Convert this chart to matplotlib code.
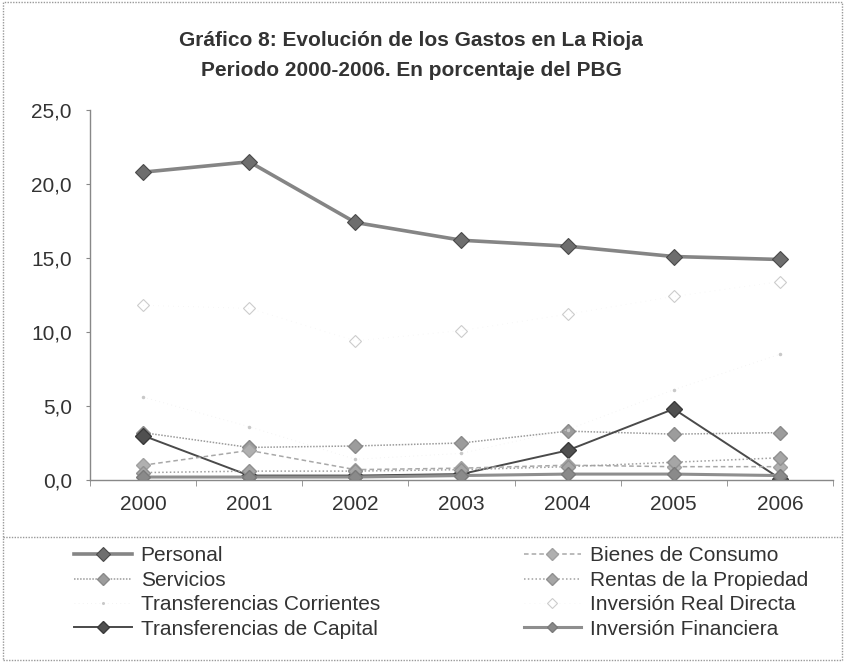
import matplotlib
matplotlib.use('Agg')
import matplotlib.pyplot as plt
from matplotlib.patches import Rectangle
from matplotlib.lines import Line2D

plt.rcParams['font.family'] = ['Liberation Sans', 'DejaVu Sans']

## data (% of PBG)
years = ['2000', '2001', '2002', '2003', '2004', '2005', '2006']
personal = [20.8, 21.5, 17.4, 16.2, 15.8, 15.1, 14.9]
bienes_consumo = [1.0, 2.0, 0.7, 0.8, 1.0, 0.9, 0.9]
servicios = [3.2, 2.2, 2.3, 2.5, 3.3, 3.1, 3.2]
rentas_propiedad = [0.5, 0.6, 0.6, 0.7, 0.9, 1.2, 1.5]
transf_corrientes = [5.6, 3.6, 1.4, 1.8, 3.4, 6.1, 8.5]
inv_real_directa = [11.8, 11.6, 9.4, 10.1, 11.2, 12.4, 13.4]
transf_capital = [3.0, 0.3, 0.3, 0.4, 2.0, 4.8, 0.1]
inv_financiera = [0.2, 0.2, 0.2, 0.3, 0.4, 0.4, 0.3]

y_ticks = [0, 5, 10, 15, 20, 25]

fig = plt.figure(figsize=(8.45, 6.62), dpi=100)
ax = fig.add_axes([90 / 845, 1 - 480 / 662, 743 / 845, 370 / 662])

x = list(range(len(years)))

## series (legend order is column-wise for ncol=2)
h_pers, = ax.plot(x, personal, color='#858585', lw=2.6, marker='D', ms=8.5,
                  mfc='#6e6e6e', mec='#4a4a4a', mew=0.8, label='Personal')
h_serv, = ax.plot(x, servicios, color='#9a9a9a', lw=1.1, ls=(0, (1, 1)), marker='D', ms=7.5,
                  mfc='#9c9c9c', mec='#8a8a8a', label='Servicios')
h_tc, = ax.plot(x, transf_corrientes, color='#f0f0f0', lw=0.6, ls=(0, (1, 4)), marker='.', ms=3,
                mfc='#c8c8c8', mec='#c8c8c8', label='Transferencias Corrientes')
h_tk, = ax.plot(x, transf_capital, color='#4a4a4a', lw=1.4, marker='D', ms=8,
                mfc='#505050', mec='#3a3a3a', label='Transferencias de Capital')
h_bc, = ax.plot(x, bienes_consumo, color='#a8a8a8', lw=1.1, ls=(0, (3, 2)), marker='D', ms=7.5,
                mfc='#b0b0b0', mec='#a0a0a0', label='Bienes de Consumo')
h_rp, = ax.plot(x, rentas_propiedad, color='#a0a0a0', lw=1.1, ls=(0, (1, 1.5)), marker='D', ms=7.5,
                mfc='#a6a6a6', mec='#909090', label='Rentas de la Propiedad')
h_ird, = ax.plot(x, inv_real_directa, color='#f4f4f4', lw=0.6, ls=(0, (1, 5)), marker='D', ms=6,
                 mfc='none', mec='#cccccc', mew=0.8, label='Inversión Real Directa')
h_if, = ax.plot(x, inv_financiera, color='#8e8e8e', lw=2.2, marker='D', ms=7,
                mfc='#8a8a8a', mec='#7a7a7a', label='Inversión Financiera')

## axes styling
ax.set_xlim(-0.5, len(years) - 0.5)
ax.set_ylim(0, 25)
ax.set_yticks(y_ticks)
ax.set_yticklabels([f'{v:.1f}'.replace('.', ',') for v in y_ticks], fontsize=15, color='#333333')
ax.set_xticks(x)
ax.set_xticklabels(years, fontsize=15, color='#333333')
ax.set_xticks([i + 0.5 for i in range(-1, len(years))], minor=True)
ax.tick_params(axis='x', which='major', length=0, pad=11)
ax.tick_params(axis='x', which='minor', length=4, color='#888888', direction='out')
ax.tick_params(axis='y', length=3, color='#888888', pad=10)
for s in ['top', 'right']:
    ax.spines[s].set_visible(False)
for s in ['left', 'bottom']:
    ax.spines[s].set_color('#888888')
    ax.spines[s].set_linewidth(1.0)

## title
fig.text(411 / 845, 1 - 40 / 662, 'Gráfico 8: Evolución de los Gastos en La Rioja',
         ha='center', va='center', fontsize=15, fontweight='bold', color='#333333')
fig.text(411 / 845, 1 - 70 / 662, 'Periodo 2000-2006. En porcentaje del PBG',
         ha='center', va='center', fontsize=15, fontweight='bold', color='#333333')

## chart + legend frames
fig.patches.append(Rectangle((3 / 845, 2 / 662), 839 / 845, 658 / 662, transform=fig.transFigure,
                             fill=False, ec='#999999', lw=1.0, ls=(0, (1, 1))))
fig.lines.append(Line2D([3 / 845, 842 / 845], [1 - 537 / 662, 1 - 537 / 662],
                        transform=fig.transFigure, color='#999999', lw=1.0, ls=(0, (1, 1))))

handles = [h_pers, h_serv, h_tc, h_tk, h_bc, h_rp, h_ird, h_if]
fig.legend(handles=handles, labels=[h.get_label() for h in handles], ncol=2,
           loc='upper left', bbox_to_anchor=(64 / 845, 1 - 536 / 662), frameon=False,
           fontsize=15, handlelength=2.75, handletextpad=0.43, columnspacing=6.9,
           labelspacing=0.26, borderpad=0, markerscale=0.8, labelcolor='#333333')

fig.savefig('out.png', dpi=100)
